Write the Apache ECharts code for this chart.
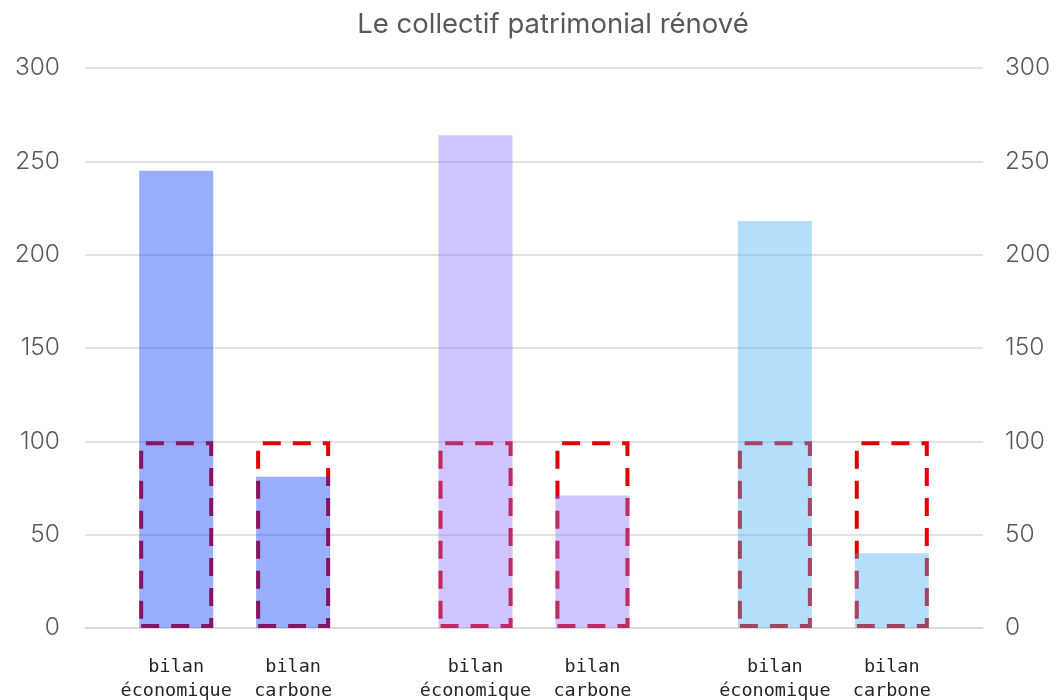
<!DOCTYPE html>
<html>
<head>
<meta charset="utf-8">
<script src="https://cdn.jsdelivr.net/npm/echarts@6/dist/echarts.min.js"></script>
<style>
  html, body { margin: 0; padding: 0; background: #ffffff; }
  #chart { width: 1056px; height: 700px; }
</style>
</head>
<body>
<div id="chart"></div>
<script>
// Groups of buildings, each with an economic and a carbon score
const groups = ['groupe 1', 'groupe 2', 'groupe 3'];
const labelEco = 'bilan\néconomique';
const labelCarbon = 'bilan\ncarbone';
const ecoValues = [245, 264, 218];
const carbonValues = [81, 71, 40];
// Reference level shown as dashed frames
const referenceValues = [100, 100, 100];
const groupColors = ['rgba(0,50,245,0.4)', 'rgba(135,107,250,0.4)', 'rgba(65,175,247,0.4)'];
const yTicks = { min: 0, max: 300, interval: 50 };

const chart = echarts.init(document.getElementById('chart'));

const labelStyle = (text) => ({
  show: true,
  position: 'bottom',
  distance: 27,
  formatter: text,
  fontFamily: '"DejaVu Sans Mono", monospace',
  fontSize: 18.5,
  lineHeight: 24,
  color: '#262626',
  align: 'center'
});

const valueBar = (name, values, text) => ({
  name: name,
  type: 'bar',
  xAxisIndex: 0,
  yAxisIndex: 0,
  barWidth: 74,
  barGap: '58%',
  z: 3,
  data: values.map((v, i) => ({ value: v, itemStyle: { color: groupColors[i] } })),
  label: labelStyle(text)
});

const refBar = (name) => ({
  name: name,
  type: 'bar',
  xAxisIndex: 1,
  yAxisIndex: 0,
  barWidth: 74,
  barGap: '58%',
  z: 2,
  silent: true,
  data: referenceValues,
  itemStyle: {
    color: 'rgba(0,0,0,0)',
    borderColor: '#e00000',
    borderWidth: 4,
    borderType: [18, 12]
  }
});

const valueAxisLabel = {
  fontFamily: 'Inter, "Noto Sans", sans-serif',
  fontSize: 24.5,
  fontWeight: 300,
  color: '#595959'
};

chart.setOption({
  animation: false,
  title: {
    text: 'Le collectif patrimonial rénové',
    left: 548,
    textAlign: 'center',
    top: 6,
    textStyle: {
      fontFamily: 'Inter, "Noto Sans", sans-serif',
      fontWeight: 'normal',
      fontSize: 27.5,
      color: '#595959'
    }
  },
  grid: { left: 85, right: 73, top: 68, bottom: 72, containLabel: false },
  xAxis: [
    {
      type: 'category',
      data: groups,
      axisLine: { show: true, lineStyle: { color: '#d9d9d9', width: 1.5 } },
      axisTick: { show: false },
      axisLabel: { show: false }
    },
    {
      type: 'category',
      data: groups,
      show: false
    }
  ],
  yAxis: [
    {
      type: 'value',
      position: 'left',
      min: yTicks.min, max: yTicks.max, interval: yTicks.interval,
      axisLine: { show: false },
      axisTick: { show: false },
      axisLabel: Object.assign({ margin: 25 }, valueAxisLabel),
      splitLine: { lineStyle: { color: '#d9d9d9', width: 1.5 } }
    },
    {
      type: 'value',
      position: 'right',
      min: yTicks.min, max: yTicks.max, interval: yTicks.interval,
      axisLine: { show: false },
      axisTick: { show: false },
      axisLabel: Object.assign({ margin: 22 }, valueAxisLabel),
      splitLine: { show: false }
    }
  ],
  series: [
    valueBar('bilan économique', ecoValues, labelEco),
    valueBar('bilan carbone', carbonValues, labelCarbon),
    refBar('référence économique'),
    refBar('référence carbone')
  ]
});
</script>
</body>
</html>
